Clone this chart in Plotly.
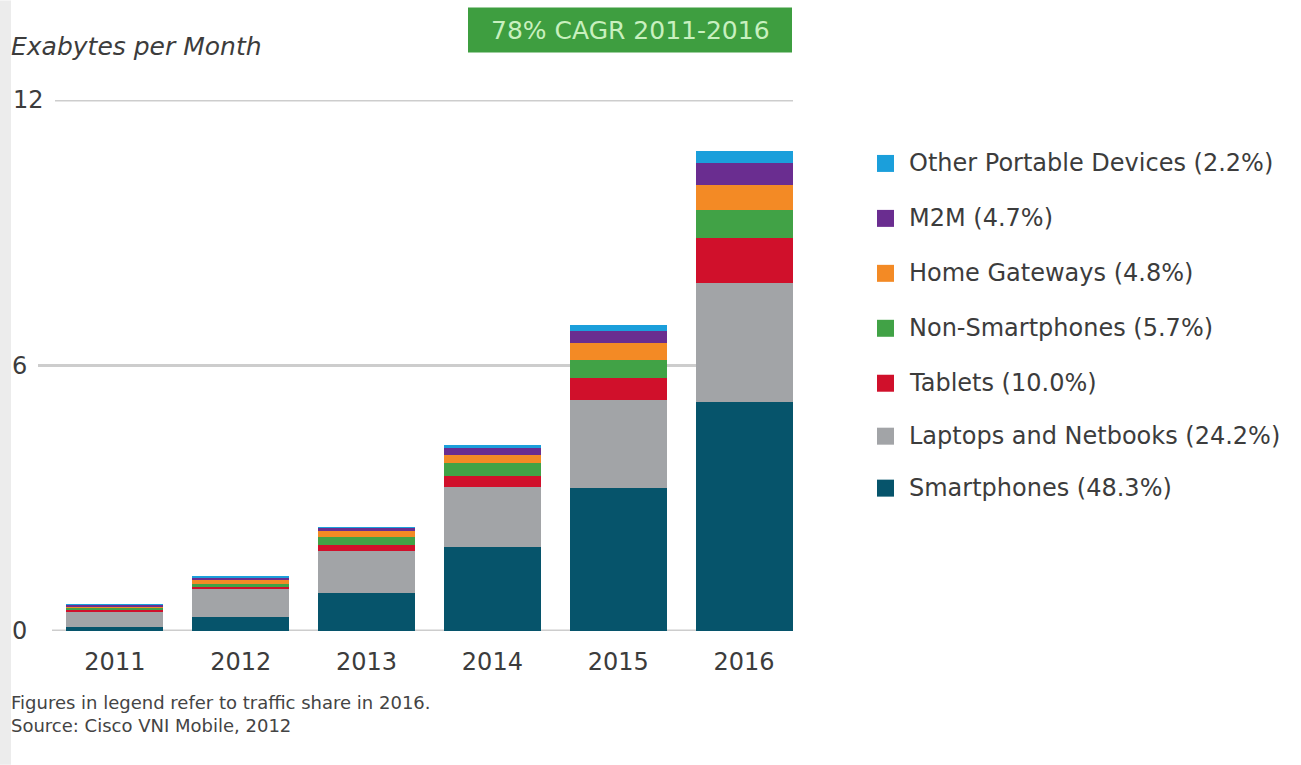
import plotly.graph_objects as go

# ---------------- data ----------------
years = ["2011", "2012", "2013", "2014", "2015", "2016"]

smartphones = [0.09, 0.32, 0.87, 1.90, 3.23, 5.17]
laptops     = [0.36, 0.62, 0.94, 1.36, 1.99, 2.69]
tablets     = [0.03, 0.05, 0.14, 0.25, 0.50, 1.02]
non_smart   = [0.05, 0.08, 0.17, 0.29, 0.41, 0.63]
home_gw     = [0.03, 0.08, 0.13, 0.18, 0.38, 0.57]
m2m         = [0.03, 0.06, 0.08, 0.16, 0.26, 0.50]
other_port  = [0.01, 0.03, 0.02, 0.06, 0.15, 0.27]

series_names = ["Smartphones", "Laptops and Netbooks", "Tablets", "Non-Smartphones",
                "Home Gateways", "M2M", "Other Portable Devices"]
share_2016 = ["48.3%", "24.2%", "10.0%", "5.7%", "4.8%", "4.7%", "2.2%"]
series_values = [smartphones, laptops, tablets, non_smart, home_gw, m2m, other_port]
series_colors = ["#06546b", "#a2a4a7", "#d0102b", "#41a246", "#f38a25", "#6a2d90", "#1b9fdb"]

y_ticks = [0, 6, 12]
y_tick_text = ["0", "6", "12"]

title_text = "Exabytes per Month"
badge_text = "78% CAGR 2011-2016"
footnotes = ["Figures in legend refer to traffic share in 2016.",
             "Source: Cisco VNI Mobile, 2012"]

# ---------------- layout geometry (pixels) ----------------
FIG_W, FIG_H = 1301, 765
L, R, T, B = 38, 793, 99.5, 631
W, H = R - L, B - T


def px(x):
    return (x - L) / W


def py(y):
    return (B - y) / H


FONT = "DejaVu Sans"
TXT = "#3c3c3c"

fig = go.Figure()
for name, vals, col in zip(series_names, series_values, series_colors):
    fig.add_trace(go.Bar(
        x=years, y=vals, name=name, marker=dict(color=col, line=dict(width=0)),
        width=0.77, showlegend=False))

shapes = []
annotations = []

# left grey strip
shapes.append(dict(type="rect", xref="paper", yref="paper", x0=px(0), x1=px(11),
                   y0=py(FIG_H), y1=py(0), fillcolor="#ececec", line=dict(width=0),
                   layer="below"))

# gridlines
grid_start = {0: 52, 6: 38, 12: 55}
label_left = {0: 10, 6: 10, 12: 11}
for v, t in zip(y_ticks, y_tick_text):
    shapes.append(dict(type="line", xref="paper", yref="y", x0=px(grid_start[v]), x1=1,
                       y0=v, y1=v, line=dict(color="#cdcdcd", width=3), layer="below"))
    annotations.append(dict(text=t, xref="paper", yref="y", x=px(label_left[v]), y=v,
                            xanchor="left", yanchor="middle", showarrow=False,
                            font=dict(family=FONT, size=24, color=TXT)))

# title
annotations.append(dict(text=title_text, xref="paper", yref="paper", x=px(9), y=py(46),
                        xanchor="left", yanchor="middle", showarrow=False,
                        font=dict(family=FONT, size=25, color=TXT, style="italic")))

# badge
shapes.append(dict(type="rect", xref="paper", yref="paper", x0=px(468), x1=px(792),
                   y0=py(52), y1=py(7), fillcolor="#3e9e40", line=dict(width=0)))
annotations.append(dict(text=badge_text, xref="paper", yref="paper", x=px(630), y=py(30),
                        xanchor="center", yanchor="middle", showarrow=False,
                        font=dict(family=FONT, size=25, color="#c8f0bf")))

# manual legend (top to bottom)
legend_rows = [163, 218, 273, 328, 383, 436, 488]
order = list(range(len(series_names)))[::-1]
for row_y, i in zip(legend_rows, order):
    shapes.append(dict(type="rect", xref="paper", yref="paper",
                       x0=px(877), x1=px(894), y0=py(row_y + 8.5), y1=py(row_y - 8.5),
                       fillcolor=series_colors[i], line=dict(width=0)))
    annotations.append(dict(text=f"{series_names[i]} ({share_2016[i]})", xref="paper",
                            yref="paper", x=px(907), y=py(row_y), xanchor="left",
                            yanchor="middle", showarrow=False,
                            font=dict(family=FONT, size=24, color=TXT)))

# footnotes
for t, fy in zip(footnotes, [703, 726]):
    annotations.append(dict(text=t, xref="paper", yref="paper", x=px(9), y=py(fy),
                            xanchor="left", yanchor="middle", showarrow=False,
                            font=dict(family=FONT, size=18, color="#444444")))

fig.update_layout(
    barmode="stack",
    width=FIG_W, height=FIG_H,
    margin=dict(l=L, r=FIG_W - R, t=T, b=FIG_H - B, pad=0),
    paper_bgcolor="white", plot_bgcolor="white",
    xaxis=dict(type="category", range=[-0.611, 5.389], showgrid=False, zeroline=False,
               showline=False, ticks="", ticklabelstandoff=14,
               tickfont=dict(family=FONT, size=24, color=TXT)),
    yaxis=dict(range=[0, 12], showgrid=False, zeroline=False, showline=False,
               showticklabels=False, ticks=""),
    shapes=shapes, annotations=annotations, showlegend=False,
)

fig.write_html("out.html")
